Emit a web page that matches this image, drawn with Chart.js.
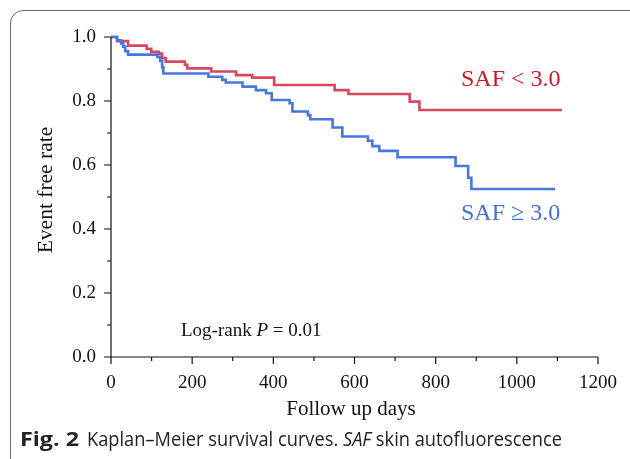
<!DOCTYPE html>
<html>
<head>
<meta charset="utf-8">
<script src="https://cdn.jsdelivr.net/npm/chart.js@4.4.1/dist/chart.umd.min.js"></script>
<style>
    html, body { margin: 0; padding: 0; background: #fff; }
    body { width: 630px; height: 459px; position: relative; overflow: hidden; }
    #frame {
        position: absolute; left: 10px; top: 10px; width: 650px; height: 480px;
        border: 1.5px solid #6b6b6b; border-radius: 13px; box-sizing: border-box;
    }
    #chart { position: absolute; left: 0; top: 0; }
    .cap {
        position: absolute; top: 425px; white-space: nowrap;
        font-family: 'Open Sans', sans-serif; font-size: 20px; color: #222;
        transform-origin: 0 0;
    }
    #capFig { left: 20px; font-weight: bold; }
    #capText { left: 87px; }
</style>
</head>
<body>
<div id="frame"></div>
<canvas id="chart" width="630" height="459"></canvas>
<div id="capFig" class="cap">Fig. 2</div>
<div id="capText" class="cap">Kaplan–Meier survival curves. <i>SAF</i> skin autofluorescence</div>
<script>
// Kaplan-Meier curves (days, event free rate after each drop)
const redDays = [0, 15, 42, 88, 99, 118, 126, 135, 182, 188, 247, 308, 348, 402, 551, 585, 736, 760, 1111];
const redRate = [1.0, 0.987, 0.973, 0.963, 0.954, 0.948, 0.934, 0.923, 0.913, 0.902, 0.892, 0.881, 0.873, 0.85, 0.834, 0.822, 0.798, 0.772, 0.772];

const blueDays = [0, 15, 25, 30, 35, 42, 114, 121, 126, 129, 240, 274, 283, 324, 357, 382, 396, 440, 447, 485, 491, 546, 570, 633, 644, 661, 706, 849, 880, 888, 1094];
const blueRate = [1.0, 0.99, 0.98, 0.97, 0.956, 0.945, 0.938, 0.925, 0.905, 0.886, 0.876, 0.866, 0.858, 0.845, 0.834, 0.824, 0.803, 0.793, 0.767, 0.756, 0.743, 0.717, 0.689, 0.676, 0.659, 0.644, 0.624, 0.597, 0.56, 0.525, 0.525];

const xTicks = [0, 200, 400, 600, 800, 1000, 1200];
const xMinor = [100, 300, 500, 700, 900, 1100];
const yTicks = [0.0, 0.2, 0.4, 0.6, 0.8, 1.0];
const yMinor = [0.1, 0.3, 0.5, 0.7, 0.9];

const serif = "'Liberation Serif', 'Times New Roman', serif";

function toPoints(days, rate) {
    return days.map((d, i) => ({ x: d, y: rate[i] }));
}

// axes, ticks and in-plot labels
const decorPlugin = {
    id: 'decor',
    afterDraw(chart) {
        const ctx = chart.ctx;
        const xs = chart.scales.x;
        const ys = chart.scales.y;
        const x0 = xs.getPixelForValue(0);
        const y0 = ys.getPixelForValue(0);

        ctx.save();
        ctx.strokeStyle = '#111';
        ctx.lineWidth = 1.2;
        ctx.beginPath();
        ctx.moveTo(x0, ys.getPixelForValue(1.0));
        ctx.lineTo(x0, y0);
        ctx.lineTo(xs.getPixelForValue(1200), y0);
        xTicks.forEach(v => {
            const px = xs.getPixelForValue(v);
            ctx.moveTo(px, y0); ctx.lineTo(px, y0 + 7);
        });
        xMinor.forEach(v => {
            const px = xs.getPixelForValue(v);
            ctx.moveTo(px, y0); ctx.lineTo(px, y0 + 4);
        });
        yTicks.forEach(v => {
            const py = ys.getPixelForValue(v);
            ctx.moveTo(x0, py); ctx.lineTo(x0 - 7, py);
        });
        yMinor.forEach(v => {
            const py = ys.getPixelForValue(v);
            ctx.moveTo(x0, py); ctx.lineTo(x0 - 4, py);
        });
        ctx.stroke();

        ctx.fillStyle = '#111';
        ctx.font = '21px ' + serif;
        ctx.textAlign = 'center';
        ctx.textBaseline = 'middle';
        ctx.fillText('Follow up days', 351, 409);

        ctx.save();
        ctx.translate(46, 190);
        ctx.rotate(-Math.PI / 2);
        ctx.font = '21.5px ' + serif;
        ctx.fillText('Event free rate', 0, 0);
        ctx.restore();

        // group labels
        ctx.textAlign = 'left';
        ctx.font = '24px ' + serif;
        ctx.fillStyle = '#c8192b';
        ctx.fillText('SAF < 3.0', 461, 80);
        ctx.fillStyle = '#4472cf';
        ctx.fillText('SAF \u2265 3.0', 461, 214);

        // log-rank note
        ctx.fillStyle = '#111';
        let x = 181;
        const parts = [['Log-rank ', ''], ['P', 'italic '], [' = 0.01', '']];
        parts.forEach(([t, style]) => {
            ctx.font = style + '19px ' + serif;
            ctx.fillText(t, x, 331);
            x += ctx.measureText(t).width;
        });
        ctx.restore();
    }
};

const chart = new Chart(document.getElementById('chart'), {
    type: 'scatter',
    data: {
        datasets: [
            {
                label: 'SAF < 3.0',
                data: toPoints(redDays, redRate),
                showLine: true,
                stepped: 'before',
                borderColor: '#d8475a',
                borderWidth: 2.6,
                pointRadius: 0,
                order: 2,
                clip: 6
            },
            {
                label: 'SAF \u2265 3.0',
                data: toPoints(blueDays, blueRate),
                showLine: true,
                stepped: 'before',
                borderColor: '#4777df',
                borderWidth: 2.6,
                pointRadius: 0,
                order: 1,
                clip: 6
            }
        ]
    },
    options: {
        responsive: false,
        animation: false,
        devicePixelRatio: 1,
        layout: { padding: { left: 0, top: 37, right: 32, bottom: 0 } },
        plugins: {
            legend: { display: false },
            tooltip: { enabled: false }
        },
        scales: {
            x: {
                type: 'linear',
                min: 0,
                max: 1200,
                afterFit: s => { s.height = 102; },
                afterBuildTicks: s => { s.ticks = xTicks.map(v => ({ value: v })); },
                grid: { display: false },
                border: { display: false },
                ticks: {
                    padding: 7,
                    color: '#111',
                    font: { family: serif, size: 19 },
                    callback: v => String(v)
                }
            },
            y: {
                min: 0,
                max: 1,
                afterFit: s => { s.width = 111; },
                afterBuildTicks: s => { s.ticks = yTicks.map(v => ({ value: v })); },
                grid: { display: false },
                border: { display: false },
                ticks: {
                    padding: 7,
                    color: '#111',
                    font: { family: serif, size: 19 },
                    callback: v => Number(v).toFixed(1)
                }
            }
        }
    },
    plugins: [decorPlugin]
});

// squeeze the caption parts to the widths they have in the figure
function fitWidth(id, target) {
    const el = document.getElementById(id);
    const w = el.getBoundingClientRect().width;
    el.style.transform = 'scaleX(' + (target / w) + ')';
}
fitWidth('capFig', 59);
fitWidth('capText', 475);
</script>
</body>
</html>
